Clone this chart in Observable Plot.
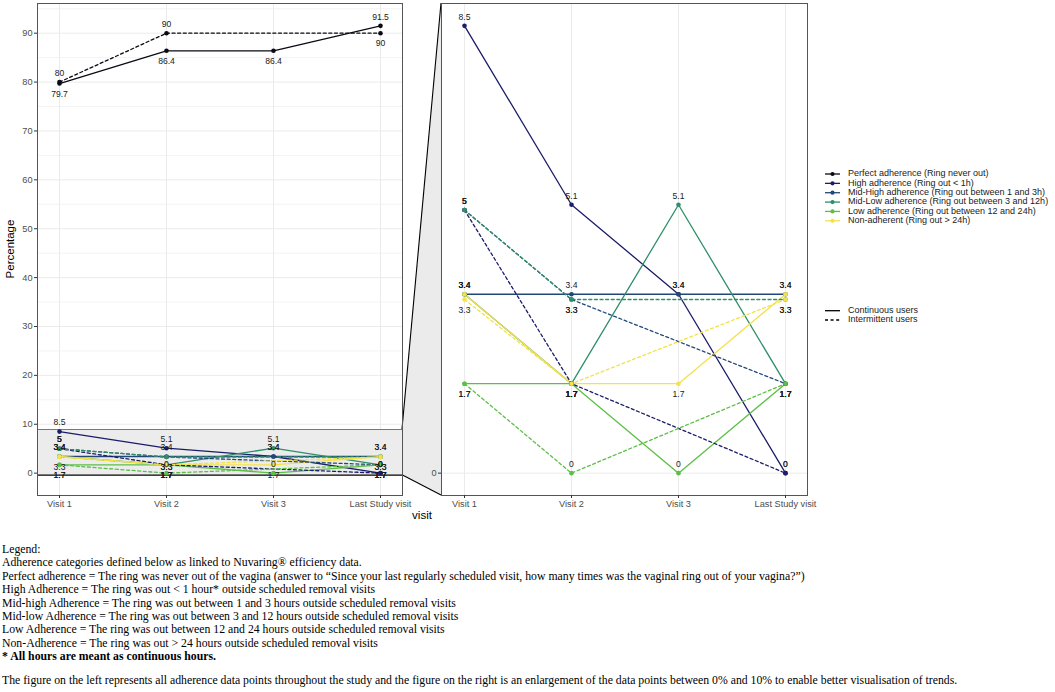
<!DOCTYPE html>
<html>
<head>
<meta charset="utf-8">
<script src="https://cdn.jsdelivr.net/npm/d3@7"></script>
<script src="https://cdn.jsdelivr.net/npm/@observablehq/plot@0.6"></script>
<style>
  body { margin: 0; background: #fff; width: 1055px; height: 692px; overflow: hidden; }
  #chart { position: relative; width: 1055px; height: 530px; }
  #chart svg { position: absolute; left: 0; top: 0; }
  #caption { position: absolute; left: 2px; top: 543px; width: 1053px;
    font-family: "Liberation Serif", "Times New Roman", serif; font-size: 11.75px; line-height: 13.4px; color: #000; }
  #caption p { margin: 0; white-space: nowrap; }
</style>
</head>
<body>
<div id="chart"></div>
<div id="caption">
  <p>Legend:</p>
  <p>Adherence categories defined below as linked to Nuvaring® efficiency data.</p>
  <p>Perfect adherence = The ring was never out of the vagina (answer to “Since your last regularly scheduled visit, how many times was the vaginal ring out of your vagina?”)</p>
  <p>High Adherence = The ring was out &lt; 1 hour* outside scheduled removal visits</p>
  <p>Mid-high Adherence = The ring was out between 1 and 3 hours outside scheduled removal visits</p>
  <p>Mid-low Adherence = The ring was out between 3 and 12 hours outside scheduled removal visits</p>
  <p>Low Adherence = The ring was out between 12 and 24 hours outside scheduled removal visits</p>
  <p>Non-Adherence = The ring was out &gt; 24 hours outside scheduled removal visits</p>
  <p><b>* All hours are meant as continuous hours.</b></p>
  <p style="margin-top:10.6px">The figure on the left represents all adherence data points throughout the study and the figure on the right is an enlargement of the data points between 0% and 10% to enable better visualisation of trends.</p>
</div>
<script>
// ---------- data ----------
const visits = ["Visit 1", "Visit 2", "Visit 3", "Last Study visit"];
const categories = [
  "Perfect adherence (Ring never out)",
  "High adherence (Ring out < 1h)",
  "Mid-High adherence (Ring out between 1 and 3h)",
  "Mid-Low adherence (Ring out between 3 and 12h)",
  "Low adherence (Ring out between 12 and 24h)",
  "Non-adherent (Ring out > 24h)"
];
const categoryColors = ["#0a0a14", "#1b1c6a", "#21477a", "#2f8f68", "#5cbf45", "#f3e24b"];
const userGroups = ["Continuous users", "Intermittent users"];

// Continuous users (%), one value per visit
const contPerfect = [79.7, 86.4, 86.4, 91.5];
const contHigh    = [8.5, 5.1, 3.4, 0];
const contMidHigh = [3.4, 3.4, 3.4, 3.4];
const contMidLow  = [3.4, 1.7, 5.1, 1.7];
const contLow     = [1.7, 1.7, 0, 1.7];
const contNon     = [3.4, 1.7, 1.7, 3.4];

// Intermittent users (%), no Visit 3 data
const intPerfect = [80, 90, null, 90];
const intHigh    = [5, 1.7, null, 0];
const intMidHigh = [5, 3.3, null, 1.7];
const intMidLow  = [5, 3.3, null, 3.3];
const intLow     = [1.7, 0, null, 1.7];
const intNon     = [3.3, 1.7, null, 3.3];

const tickValuesLeft = [0, 10, 20, 30, 40, 50, 60, 70, 80, 90];
const tickValuesRight = [0];

// ---------- build rows ----------
const seriesDefs = [
  [contPerfect, 0, 0], [contHigh, 1, 0], [contMidHigh, 2, 0], [contMidLow, 3, 0], [contLow, 4, 0], [contNon, 5, 0],
  [intPerfect, 0, 1], [intHigh, 1, 1], [intMidHigh, 2, 1], [intMidLow, 3, 1], [intLow, 4, 1], [intNon, 5, 1]
];
const rows = seriesDefs.flatMap(([vals, c, g]) =>
  visits.map((v, i) => ({visit: v, value: vals[i], category: categories[c], group: userGroups[g], series: c + "-" + g}))
        .filter(d => d.value != null));

function labelBelow(d) {
  if (d.category === categories[0]) {
    const other = rows.find(o => o.category === d.category && o.visit === d.visit && o.group !== d.group);
    return other ? d.value < other.value : true;
  }
  return d.value === 1.7 || d.value === 3.3;
}

const fullMax = d3.max(rows, d => d.value);
const fullDomain = [-0.05 * fullMax, fullMax * 1.05];
const smallRows = rows.filter(d => d.category !== categories[0]);
const smallMax = d3.max(smallRows, d => d.value);
const zoomDomain = [-0.05 * smallMax, smallMax * 1.05];

// ---------- layout ----------
const W = 1055, H = 530;
const panelTop = 3, panelBottom = 495;
const leftPanel = [37, 402], rightPanel = [441, 807];
const FONT = "'Liberation Sans', Arial, Helvetica, sans-serif";

function lineMarks(data) {
  const cont = data.filter(d => d.group === userGroups[0]);
  const inter = data.filter(d => d.group === userGroups[1]);
  return [
    Plot.line(cont, {x: "visit", y: "value", z: "series", stroke: "category", strokeWidth: 1.3}),
    Plot.line(inter, {x: "visit", y: "value", z: "series", stroke: "category", strokeWidth: 1.3, strokeDasharray: "3,2.6"}),
    Plot.dot(data, {x: "visit", y: "value", fill: "category", r: 2.3}),
    Plot.text(data.filter(d => !labelBelow(d)), {x: "visit", y: "value", text: d => String(d.value), dy: -9, fontSize: 8.6, fill: "#1a1a1a"}),
    Plot.text(data.filter(d => labelBelow(d)), {x: "visit", y: "value", text: d => String(d.value), dy: 10.5, fontSize: 8.6, fill: "#1a1a1a"})
  ];
}

const common = {
  width: W, height: H, marginTop: panelTop, marginBottom: H - panelBottom,
  style: {background: "transparent", fontFamily: FONT, overflow: "visible"},
  color: {domain: categories, range: categoryColors}
};

const leftPlot = Plot.plot({
  ...common,
  marginLeft: leftPanel[0], marginRight: W - leftPanel[1],
  x: {type: "point", domain: visits, padding: 0.2},
  y: {domain: fullDomain},
  marks: [
    Plot.gridY(d3.range(5, 100, 10), {stroke: "#ebebeb", strokeOpacity: 1, strokeWidth: 0.6}),
    Plot.gridY(tickValuesLeft, {stroke: "#ebebeb", strokeOpacity: 1, strokeWidth: 1}),
    Plot.gridX(visits, {stroke: "#ebebeb", strokeOpacity: 1}),
    Plot.rect([0], {y1: zoomDomain[0], y2: zoomDomain[1], fill: "#ececec"}),
    Plot.ruleY([zoomDomain[1]], {stroke: "#777", strokeWidth: 1}),
    Plot.ruleY([zoomDomain[0]], {stroke: "#000", strokeWidth: 1.3}),
    ...lineMarks(rows),
    Plot.frame({stroke: "#555", strokeWidth: 1}),
    Plot.axisY(tickValuesLeft, {label: null, tickSize: 3, tickPadding: 2, fontSize: 9.2, color: "#4d4d4d", stroke: "#333", tickFormat: d => String(d)}),
    Plot.axisX(visits, {label: null, tickSize: 3, tickPadding: 2, fontSize: 9.2, color: "#4d4d4d", stroke: "#333"})
  ]
});

const rightPlot = Plot.plot({
  ...common,
  marginLeft: rightPanel[0], marginRight: W - rightPanel[1],
  x: {type: "point", domain: visits, padding: 0.2},
  y: {domain: zoomDomain},
  marks: [
    Plot.gridY(tickValuesRight, {stroke: "#ebebeb", strokeOpacity: 1}),
    Plot.gridX(visits, {stroke: "#ebebeb", strokeOpacity: 1}),
    ...lineMarks(smallRows),
    Plot.frame({stroke: "#555", strokeWidth: 1}),
    Plot.axisY(tickValuesRight, {label: null, tickSize: 3, tickPadding: 2, fontSize: 9.2, color: "#4d4d4d", stroke: "#333", tickFormat: d => String(d)}),
    Plot.axisX(visits, {label: null, tickSize: 3, tickPadding: 2, fontSize: 9.2, color: "#4d4d4d", stroke: "#333"})
  ]
});

// ---------- connector, axis titles, legend ----------
const yL = leftPlot.scale("y"), yR = rightPlot.scale("y");
const overlay = d3.create("svg").attr("width", W).attr("height", H)
  .style("font-family", FONT);
const pTopL = [leftPanel[1], yL.apply(zoomDomain[1])];
const pBotL = [leftPanel[1], yL.apply(zoomDomain[0])];
const pTopR = [rightPanel[0], yR.apply(zoomDomain[1])];
const pBotR = [rightPanel[0], yR.apply(zoomDomain[0])];
overlay.append("polygon").attr("points", [pTopL, pTopR, pBotR, pBotL].map(p => p.join(",")).join(" "))
  .attr("fill", "#ebebeb");
overlay.append("line").attr("x1", pTopL[0]).attr("y1", pTopL[1]).attr("x2", pTopR[0]).attr("y2", pTopR[1]).attr("stroke", "#000").attr("stroke-width", 1.1);
overlay.append("line").attr("x1", pBotL[0]).attr("y1", pBotL[1]).attr("x2", pBotR[0]).attr("y2", pBotR[1]).attr("stroke", "#000").attr("stroke-width", 1.1);

const annot = d3.create("svg").attr("width", W).attr("height", H).style("font-family", FONT);
annot.append("text").attr("transform", `translate(11,${(panelTop + panelBottom) / 2}) rotate(-90)`)
  .attr("text-anchor", "middle").attr("dominant-baseline", "middle").attr("font-size", 11.5).attr("fill", "#000").text("Percentage");
annot.append("text").attr("x", (leftPanel[0] + rightPanel[1]) / 2).attr("y", 516)
  .attr("text-anchor", "middle").attr("dominant-baseline", "middle").attr("font-size", 11.5).attr("fill", "#000").text("visit");

const legX = 825, legTextX = 848;
categories.forEach((c, i) => {
  const y = 174 + i * 9.36;
  annot.append("line").attr("x1", legX).attr("x2", legX + 15).attr("y1", y).attr("y2", y).attr("stroke", categoryColors[i]).attr("stroke-width", 1.3);
  annot.append("circle").attr("cx", legX + 7.5).attr("cy", y).attr("r", 2.1).attr("fill", categoryColors[i]);
  annot.append("text").attr("x", legTextX).attr("y", y).attr("dominant-baseline", "middle").attr("font-size", 9).attr("fill", "#1a1a1a").text(c);
});
userGroups.forEach((g, i) => {
  const y = 310.7 + i * 9.3;
  annot.append("line").attr("x1", legX).attr("x2", legX + 15).attr("y1", y).attr("y2", y).attr("stroke", "#000").attr("stroke-width", 1.3)
    .attr("stroke-dasharray", i === 1 ? "3,2.6" : null);
  annot.append("text").attr("x", legTextX).attr("y", y).attr("dominant-baseline", "middle").attr("font-size", 9).attr("fill", "#1a1a1a").text(g);
});

const chart = document.getElementById("chart");
chart.append(overlay.node(), leftPlot, rightPlot, annot.node());
</script>
</body>
</html>
